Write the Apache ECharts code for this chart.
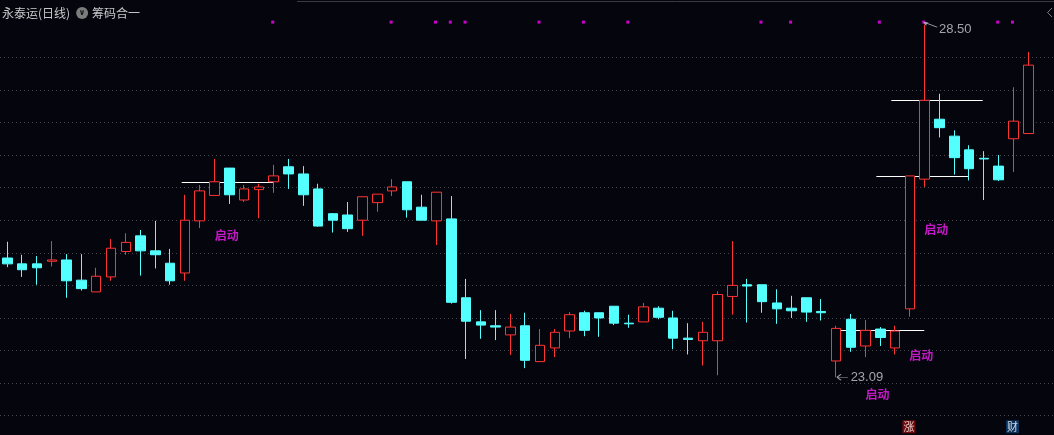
<!DOCTYPE html>
<html>
<head>
<meta charset="utf-8">
<script src="https://cdn.jsdelivr.net/npm/echarts@6/dist/echarts.min.js"></script>
<style>
html,body{margin:0;padding:0;background:#05050d;}
#c{width:1054px;height:435px;}
</style>
</head>
<body>
<div id="c"></div>
<script>
// ---- data (daily OHLC) ----
const openP  = [24.92,24.83,24.83,24.87,24.89,24.58,24.40,24.63,25.02,25.26,
                25.03,24.84,24.69,25.49,25.88,26.30,25.81,25.97,26.09,26.32,
                26.21,25.98,25.60,25.58,25.50,25.77,25.95,26.09,25.70,25.49,
                25.52,24.31,23.94,23.88,23.74,23.88,23.33,23.54,23.80,24.08,
                24.08,24.18,23.92,23.94,24.15,24.00,23.69,23.65,23.65,24.33,
                24.51,24.51,24.23,24.15,24.31,24.10,23.34,23.98,23.57,23.83,
                23.54,24.14,26.13,27.05,26.79,26.58,26.45,26.33,26.75,26.83];
const closeP = [24.83,24.74,24.77,24.89,24.57,24.45,24.64,25.07,25.16,25.03,
                24.97,24.57,25.50,25.95,26.09,25.89,25.98,26.01,26.18,26.21,
                25.89,25.41,25.50,25.37,25.86,25.90,26.01,25.66,25.50,25.93,
                24.24,23.95,23.89,23.86,23.86,23.35,23.58,23.78,24.05,23.81,
                24.00,23.92,23.91,24.17,24.01,23.69,23.67,23.78,24.36,24.50,
                24.49,24.25,24.14,24.11,24.09,24.08,23.84,23.55,23.81,23.70,
                23.80,26.18,27.34,26.92,26.46,26.29,26.44,26.12,27.02,27.88];
const lowP   = [24.78,24.63,24.51,24.79,24.31,24.42,24.40,24.57,24.97,24.65,
                24.76,24.51,24.57,25.38,25.88,25.75,25.78,25.53,25.92,25.98,
                25.72,25.40,25.31,25.32,25.26,25.63,25.87,25.54,25.50,25.12,
                24.22,23.37,23.68,23.66,23.43,23.23,23.33,23.40,23.69,23.72,
                23.71,23.89,23.85,23.94,23.98,23.52,23.44,23.27,23.12,24.05,
                23.93,24.08,23.91,24.00,23.94,23.96,23.09,23.48,23.40,23.57,
                23.44,24.02,26.01,26.77,26.20,26.11,25.81,26.10,26.24,26.83];
const highP  = [25.17,24.97,24.95,25.18,24.98,24.98,24.77,25.21,25.30,25.35,
                25.49,25.06,25.89,26.04,26.44,26.30,26.04,26.06,26.35,26.44,
                26.33,26.06,25.61,25.78,25.86,25.90,26.13,26.09,25.89,25.93,
                25.87,24.60,24.12,24.12,24.06,24.08,23.83,23.83,24.09,24.11,
                24.08,24.18,24.05,24.23,24.18,24.11,23.92,23.94,24.41,25.18,
                24.60,24.51,24.44,24.34,24.31,24.29,23.88,24.06,23.97,23.86,
                23.88,26.18,28.50,27.44,26.88,26.65,26.56,26.50,27.54,28.08];
const days = openP.map((_, i) => 'D' + (i + 1));

// chip (筹码) lines: start/end in candle units, price level
const chipStart = [11.78, 55.76, 58.73, 59.74];
const chipEnd   = [17.97, 61.97, 64.93, 65.92];
const chipPrice = [26.08, 23.81, 26.18, 27.34];

// signal dots along the top
const signalIdx = [18, 26, 29, 30, 31, 36, 39, 42, 51, 53, 59, 62, 67, 68];

// "启动" labels (candle units, price)
const launchX = [14.82, 62.78, 61.76, 58.80];
const launchY = [25.26, 25.36, 23.43, 22.83];

// bottom badges
const badgeIdx  = [61, 68];
const badgeText = ['涨', '财'];

// price axis
const yMin = 22.5, yMax = 28.0, yStep = 0.5;

// ---- chart ----
const BG = '#05050d', RED = '#ff3434', CYAN = '#54ffff';
const SIGNAL_LEVEL = 28.54, BADGE_LEVEL = 22.33;

let hiIdx = 0, loIdx = 0;
highP.forEach((v, i) => { if (v > highP[hiIdx]) hiIdx = i; });
lowP.forEach((v, i) => { if (v < lowP[loIdx]) loIdx = i; });

const chart = echarts.init(document.getElementById('c'), null, {renderer: 'canvas'});
const hiddenAxis = {axisLine: {show: false}, axisTick: {show: false}, axisLabel: {show: false}, splitLine: {show: false}};
const GRID_TOP = 57.3, GRID_H = 358.4;

chart.setOption({
  backgroundColor: BG,
  animation: false,
  title: {
    left: 2, top: 4, padding: 0,
    text: '{a|永泰运(日线)}{g|}{ic|∨}{g2|}{a|筹码合一}',
    textStyle: {
      fontWeight: 'normal',
      rich: {
        a: {fontSize: 12, color: '#c8c8cc', fontFamily: 'Noto Sans CJK SC', fontWeight: 'normal', lineHeight: 14},
        g: {width: 6},
        g2: {width: 4},
        ic: {width: 12, height: 12, lineHeight: 12, borderRadius: 6, backgroundColor: '#7c7c7c',
             color: '#15151a', fontSize: 8, align: 'center', fontWeight: 'bold', fontFamily: 'DejaVu Sans'}
      }
    }
  },
  graphic: [
    {type: 'line', shape: {x1: 297, y1: 1.5, x2: 1054, y2: 1.5}, style: {stroke: '#3a3a40', lineWidth: 1}, silent: true},
    {type: 'polyline', shape: {points: [[1052, 8], [1047.5, 12.5], [1052, 17]]}, style: {stroke: '#7a7a80', lineWidth: 1, fill: null}, silent: true}
  ],
  grid: [
    {left: 0, right: 0, top: GRID_TOP, height: GRID_H},
    {left: -2.1, width: 1037.8, top: GRID_TOP, height: GRID_H}
  ],
  xAxis: [
    Object.assign({gridIndex: 0, type: 'value', min: 0, max: 1}, hiddenAxis),
    Object.assign({gridIndex: 1, type: 'category', data: days, boundaryGap: true}, hiddenAxis),
    Object.assign({gridIndex: 1, type: 'value', min: -0.5, max: days.length - 0.5}, hiddenAxis)
  ],
  yAxis: [
    {gridIndex: 0, type: 'value', min: yMin, max: yMax, interval: yStep,
     axisLine: {show: false}, axisTick: {show: false}, axisLabel: {show: false},
     splitLine: {show: true, lineStyle: {color: '#45454d', width: 1, type: [1, 3]}}},
    Object.assign({gridIndex: 1, type: 'value', min: yMin, max: yMax, interval: yStep}, hiddenAxis)
  ],
  series: [
    {
      type: 'candlestick', xAxisIndex: 1, yAxisIndex: 1, clip: false, silent: true,
      barWidth: 10,
      data: days.map((d, i) => [openP[i], closeP[i], lowP[i], highP[i]]),
      itemStyle: {color: BG, color0: CYAN, borderColor: RED, borderColor0: CYAN, borderWidth: 1}
    },
    {
      type: 'lines', coordinateSystem: 'cartesian2d', xAxisIndex: 2, yAxisIndex: 1, silent: true,
      data: chipStart.map((s, k) => ({coords: [[s, chipPrice[k]], [chipEnd[k], chipPrice[k]]]})),
      lineStyle: {color: '#ffffff', width: 1.2, opacity: 1}
    },
    {
      type: 'scatter', xAxisIndex: 1, yAxisIndex: 1, clip: false, silent: true,
      symbol: 'rect', symbolSize: 3, symbolOffset: [-1, 0],
      itemStyle: {color: '#ff00ff'},
      data: signalIdx.map(i => [i, SIGNAL_LEVEL])
    },
    {
      type: 'scatter', xAxisIndex: 2, yAxisIndex: 1, clip: false, silent: true,
      symbol: 'rect', symbolSize: [24, 12], itemStyle: {color: 'transparent'},
      label: {show: true, position: 'inside', formatter: '启动', color: '#f21ef2', fontSize: 12,
              fontFamily: 'Noto Sans CJK SC', fontWeight: 'bold'},
      data: launchX.map((x, k) => [x, launchY[k]])
    },
    {
      type: 'scatter', xAxisIndex: 1, yAxisIndex: 1, clip: false, silent: true,
      symbol: 'rect', symbolSize: 13, symbolOffset: [-1, 0],
      label: {show: true, position: 'inside', formatter: '{b}', color: '#ffffff', fontSize: 11,
              fontFamily: 'Noto Sans CJK SC'},
      data: badgeIdx.map((i, k) => ({name: badgeText[k], value: [i, BADGE_LEVEL],
              itemStyle: {color: k === 0 ? '#8a0c0c' : '#0d3d70'}}))
    },
    {
      type: 'scatter', xAxisIndex: 1, yAxisIndex: 1, clip: false, silent: true,
      itemStyle: {color: 'transparent', borderColor: '#c4c8d0', borderWidth: 1},
      label: {show: true, position: 'right', distance: 2, color: '#c8ccd6', fontSize: 13,
              fontFamily: 'Liberation Sans',
              formatter: p => p.value[1].toFixed(2)},
      data: [
        {value: [loIdx, lowP[loIdx]], symbol: 'path://M0,3L4,0M0,3L4,6M0,3L11,3',
         symbolSize: [11, 6], symbolOffset: [6.5, 0]},
        {value: [hiIdx, highP[hiIdx]], symbol: 'path://M0,0L4,0.3M0,0L2,3M0,0L13,5',
         symbolSize: [13, 5], symbolOffset: [6, 0], label: {offset: [-1, 5]}}
      ]
    }
  ]
});
</script>
</body>
</html>
